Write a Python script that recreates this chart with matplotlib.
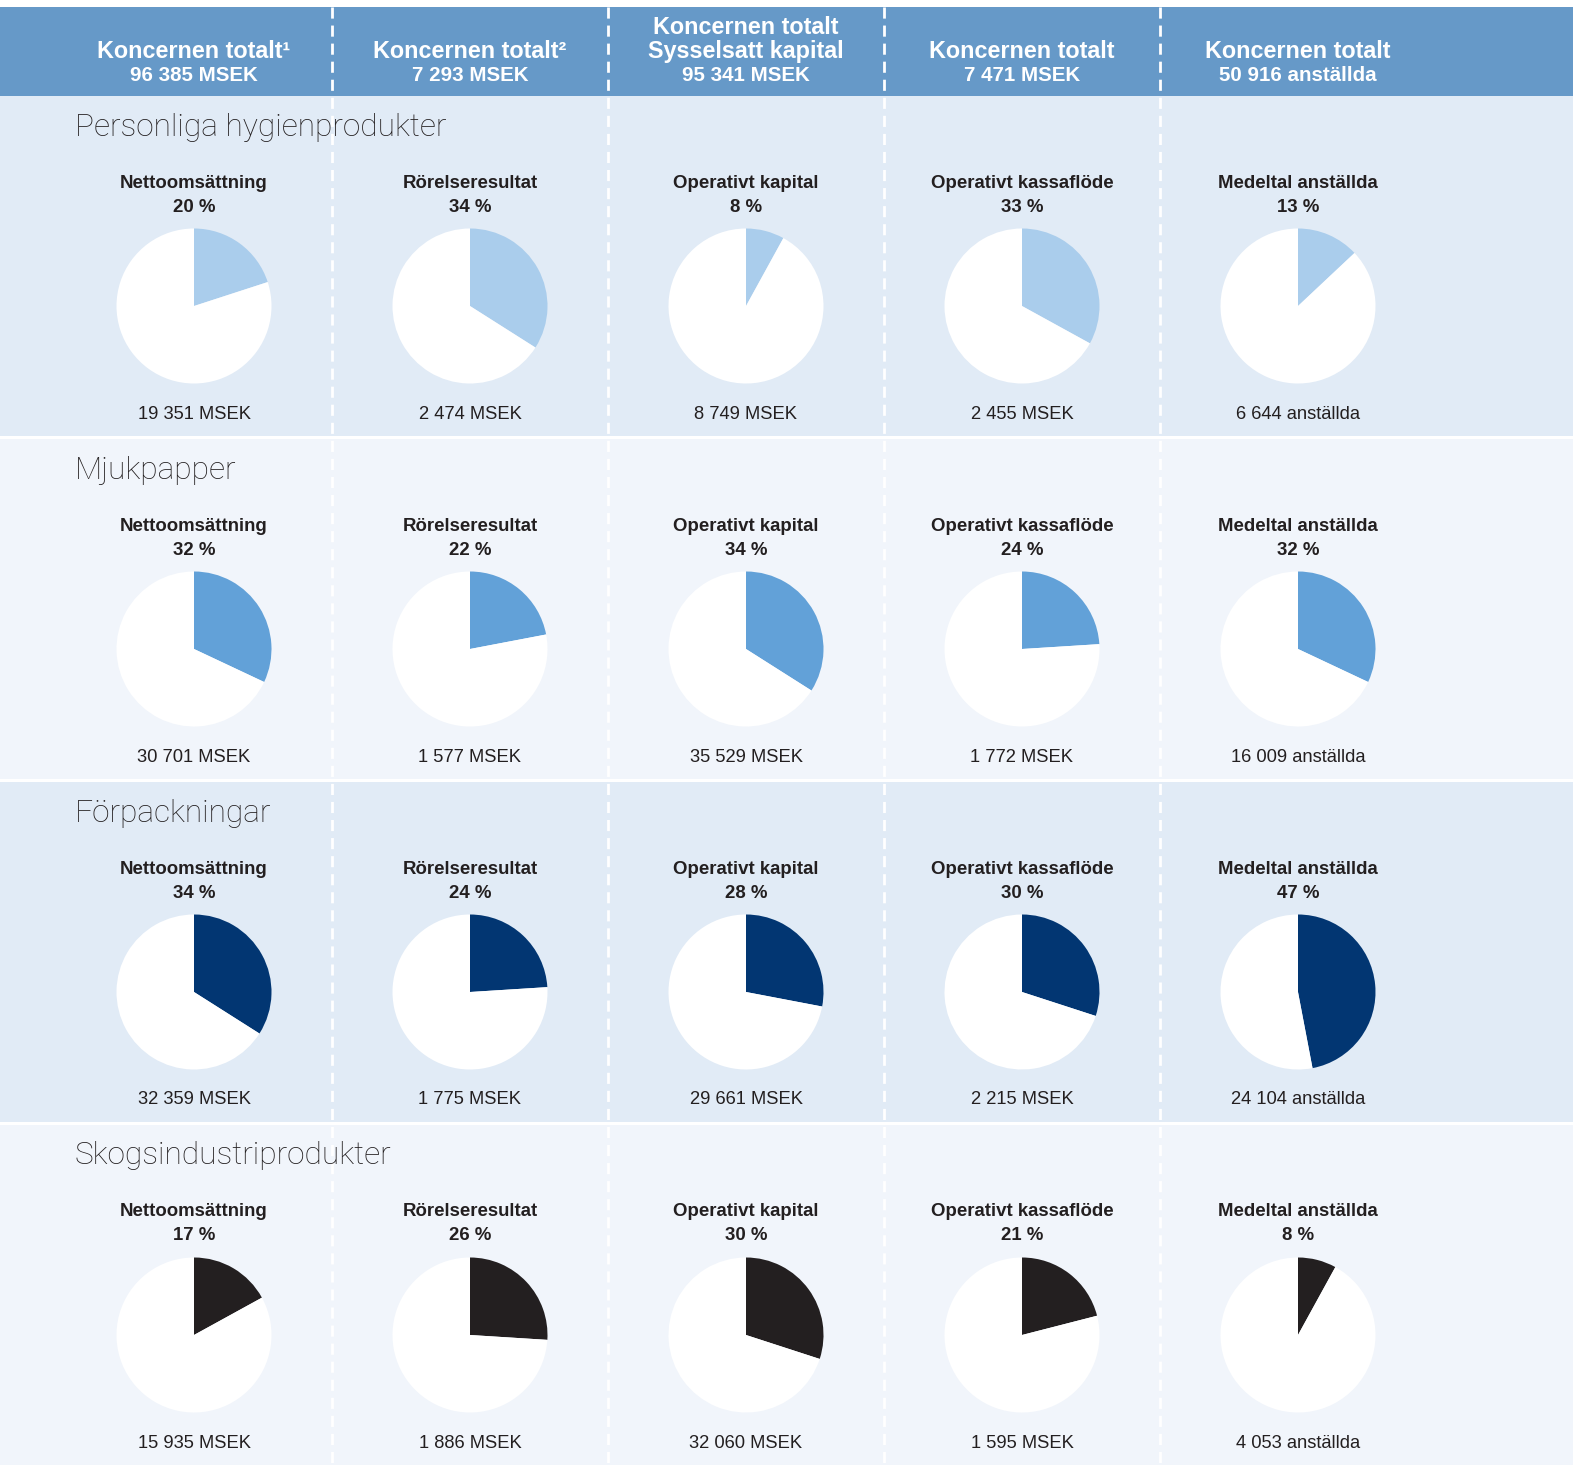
import matplotlib
matplotlib.use("Agg")
import matplotlib.pyplot as plt
from matplotlib.patches import Rectangle

# ---------------- data ----------------
segments = ["Personliga hygienprodukter", "Mjukpapper", "Förpackningar", "Skogsindustriprodukter"]
metrics = ["Nettoomsättning", "Rörelseresultat", "Operativt kapital",
           "Operativt kassaflöde", "Medeltal anställda"]
header_titles = ["Koncernen totalt¹", "Koncernen totalt²", "Koncernen totalt\nSysselsatt kapital",
                 "Koncernen totalt", "Koncernen totalt"]
header_totals = ["96 385 MSEK", "7 293 MSEK", "95 341 MSEK", "7 471 MSEK", "50 916 anställda"]
shares = [
    [20, 34, 8, 33, 13],
    [32, 22, 34, 24, 32],
    [34, 24, 28, 30, 47],
    [17, 26, 30, 21, 8],
]
values = [
    ["19 351 MSEK", "2 474 MSEK", "8 749 MSEK", "2 455 MSEK", "6 644 anställda"],
    ["30 701 MSEK", "1 577 MSEK", "35 529 MSEK", "1 772 MSEK", "16 009 anställda"],
    ["32 359 MSEK", "1 775 MSEK", "29 661 MSEK", "2 215 MSEK", "24 104 anställda"],
    ["15 935 MSEK", "1 886 MSEK", "32 060 MSEK", "1 595 MSEK", "4 053 anställda"],
]
segment_colors = ["#AACDEC", "#62A1D8", "#023672", "#231F20"]

# ---------------- layout ----------------
W, H = 1573, 1469
header_color = "#6699C8"
band_colors = ["#E1EBF6", "#F1F5FB", "#E1EBF6", "#F1F5FB"]
FONT = ["Liberation Sans", "DejaVu Sans"]
TXT = "#231F20"

fig = plt.figure(figsize=(W / 100, H / 100), dpi=100)
ax = fig.add_axes([0, 0, 1, 1])
ax.set_xlim(0, W)
ax.set_ylim(0, H)
ax.axis("off")


def Y(y):
    return H - y


col_w = 276
col_x0 = 56
col_centers = [col_x0 + col_w * (i + 0.5) for i in range(5)]
col_lines = [col_x0 + col_w * (i + 1) for i in range(4)]

# header band
ax.add_patch(Rectangle((0, Y(96)), W, 89, color=header_color, lw=0))
row_top = 96
row_h = 343
for r in range(4):
    top = row_top + r * row_h
    bottom = min(top + row_h - 3, H)
    ax.add_patch(Rectangle((0, Y(bottom)), W, bottom - top, color=band_colors[r], lw=0))

# header texts
for i, cx in enumerate(col_centers):
    title_lines = header_titles[i].split("\n")
    if len(title_lines) == 2:
        ax.text(cx, Y(27), title_lines[0], ha="center", va="center", color="white",
                fontsize=16.8, fontweight="bold", family=FONT)
        ax.text(cx, Y(51), title_lines[1], ha="center", va="center", color="white",
                fontsize=16.8, fontweight="bold", family=FONT)
    else:
        ax.text(cx, Y(51), title_lines[0], ha="center", va="center", color="white",
                fontsize=16.8, fontweight="bold", family=FONT)
    ax.text(cx, Y(75), header_totals[i], ha="center", va="center", color="white",
            fontsize=14.8, fontweight="bold", family=FONT)

# dashed column separators
for x in col_lines:
    ax.plot([x, x], [Y(7), Y(H)], color="white", lw=2, linestyle=(0, (4, 2.5)))

R = 77.5
for r in range(4):
    off = r * row_h
    ax.text(75, Y(127 + off), segments[r], ha="left", va="center", color=TXT,
            fontsize=22.8, fontweight="light", family=["Roboto", "DejaVu Sans"])
    for c, cx in enumerate(col_centers):
        ax.text(cx, Y(183 + off), metrics[c], ha="center", va="center", color=TXT,
                fontsize=13.4, fontweight="bold", family=FONT)
        ax.text(cx, Y(207 + off), f"{shares[r][c]} %", ha="center", va="center",
                color=TXT, fontsize=13.4, fontweight="bold", family=FONT)
        ax.pie([shares[r][c], 100 - shares[r][c]], colors=[segment_colors[r], "white"],
               startangle=90, counterclock=False, center=(cx, Y(306 + off)), radius=R,
               frame=True, wedgeprops=dict(linewidth=0))
        ax.text(cx, Y(414 + off), values[r][c], ha="center", va="center", color=TXT,
                fontsize=13.2, family=FONT)

ax.set_xlim(0, W)
ax.set_ylim(0, H)
ax.set_aspect("auto")
ax.axis("off")

fig.savefig("out.png", dpi=100, facecolor="white")
